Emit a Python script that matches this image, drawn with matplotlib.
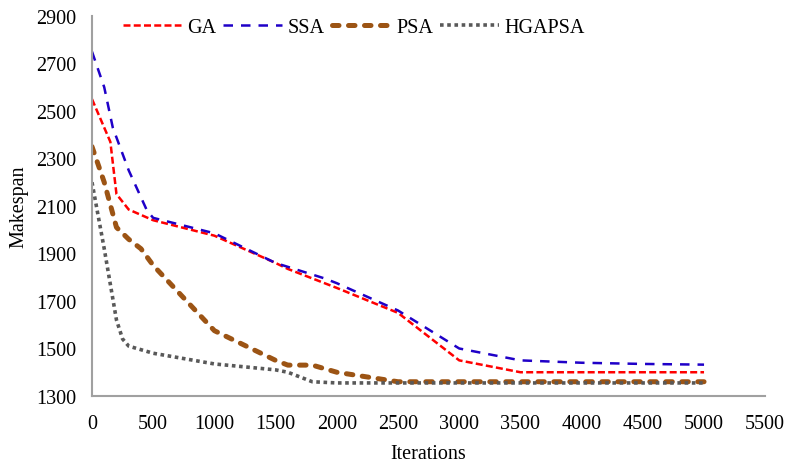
import matplotlib
matplotlib.use("Agg")
import matplotlib.pyplot as plt

plt.rcParams['font.family'] = ['Liberation Serif', 'DejaVu Serif']

ga_x = [0, 150, 200, 300, 500, 1000, 1500, 1600, 2000, 2500, 3000, 3500, 4000, 4500, 5000]
ga_y = [2550, 2370, 2150, 2085, 2040, 1975, 1860, 1835, 1755, 1650, 1450, 1400, 1400, 1400, 1400]

ssa_x = [0, 100, 170, 300, 450, 500, 1000, 1500, 1900, 2000, 2500, 3000, 3500, 4000, 4500, 5000]
ssa_y = [2750, 2600, 2430, 2250, 2080, 2050, 1985, 1860, 1795, 1775, 1660, 1500, 1450, 1440, 1435, 1432]

psa_x = [0, 100, 200, 300, 400, 500, 1000, 1500, 1600, 1800, 2000, 2500, 3000, 3500, 4000, 4500, 5000]
psa_y = [2350, 2200, 2010, 1960, 1920, 1850, 1575, 1450, 1430, 1430, 1400, 1360, 1360, 1360, 1360, 1360, 1360]

hg_x = [0, 100, 200, 250, 300, 500, 1000, 1500, 1600, 1800, 2000, 2500, 3000, 3500, 4000, 4500, 5000]
hg_y = [2200, 1920, 1620, 1540, 1510, 1480, 1435, 1410, 1400, 1360, 1355, 1355, 1355, 1355, 1355, 1355, 1355]

labels = ["GA", "SSA", "PSA", "HGAPSA"]

fs = 14.5
fig = plt.figure(figsize=(7.93, 4.64), dpi=100)
ax = fig.add_axes([0.116, 0.1444, 0.849, 0.819])

ax.plot(ga_x, ga_y, color='#FF0000', lw=1.8, dashes=(2.8, 1.3), label=labels[0])
ax.plot(ssa_x, ssa_y, color='#1F00C8', lw=1.8, dashes=(3.8, 3.2), label=labels[1])
ax.plot(psa_x, psa_y, color='#9C5414', lw=3.6, dashes=(1.3, 1.9), label=labels[2],
        dash_capstyle='round')
ax.plot(hg_x, hg_y, color='#595959', lw=2.6, dashes=(1, 1), label=labels[3])

ax.set_xlim(0, 5500)
ax.set_ylim(1300, 2900)
ax.set_xticks(range(0, 5501, 500))
ax.set_yticks(range(1300, 2901, 200))
ax.tick_params(axis='x', length=0, labelsize=fs, pad=13)
ax.tick_params(axis='y', length=0, labelsize=fs, pad=11.5)
for s in ['top', 'right']:
    ax.spines[s].set_visible(False)
for s in ['left', 'bottom']:
    ax.spines[s].set_color('#A0A0A0')
    ax.spines[s].set_linewidth(1.5)

ax.set_xlabel("Iterations", fontsize=fs, labelpad=8)
ax.set_ylabel("Makespan", fontsize=fs, labelpad=5)

ax.legend(loc='center', bbox_to_anchor=(0.389, 0.971), ncol=4, frameon=False,
          fontsize=fs, handlelength=2.9, handletextpad=0.3, columnspacing=0.35,
          borderpad=0)

fig.savefig("out.png", dpi=100)
